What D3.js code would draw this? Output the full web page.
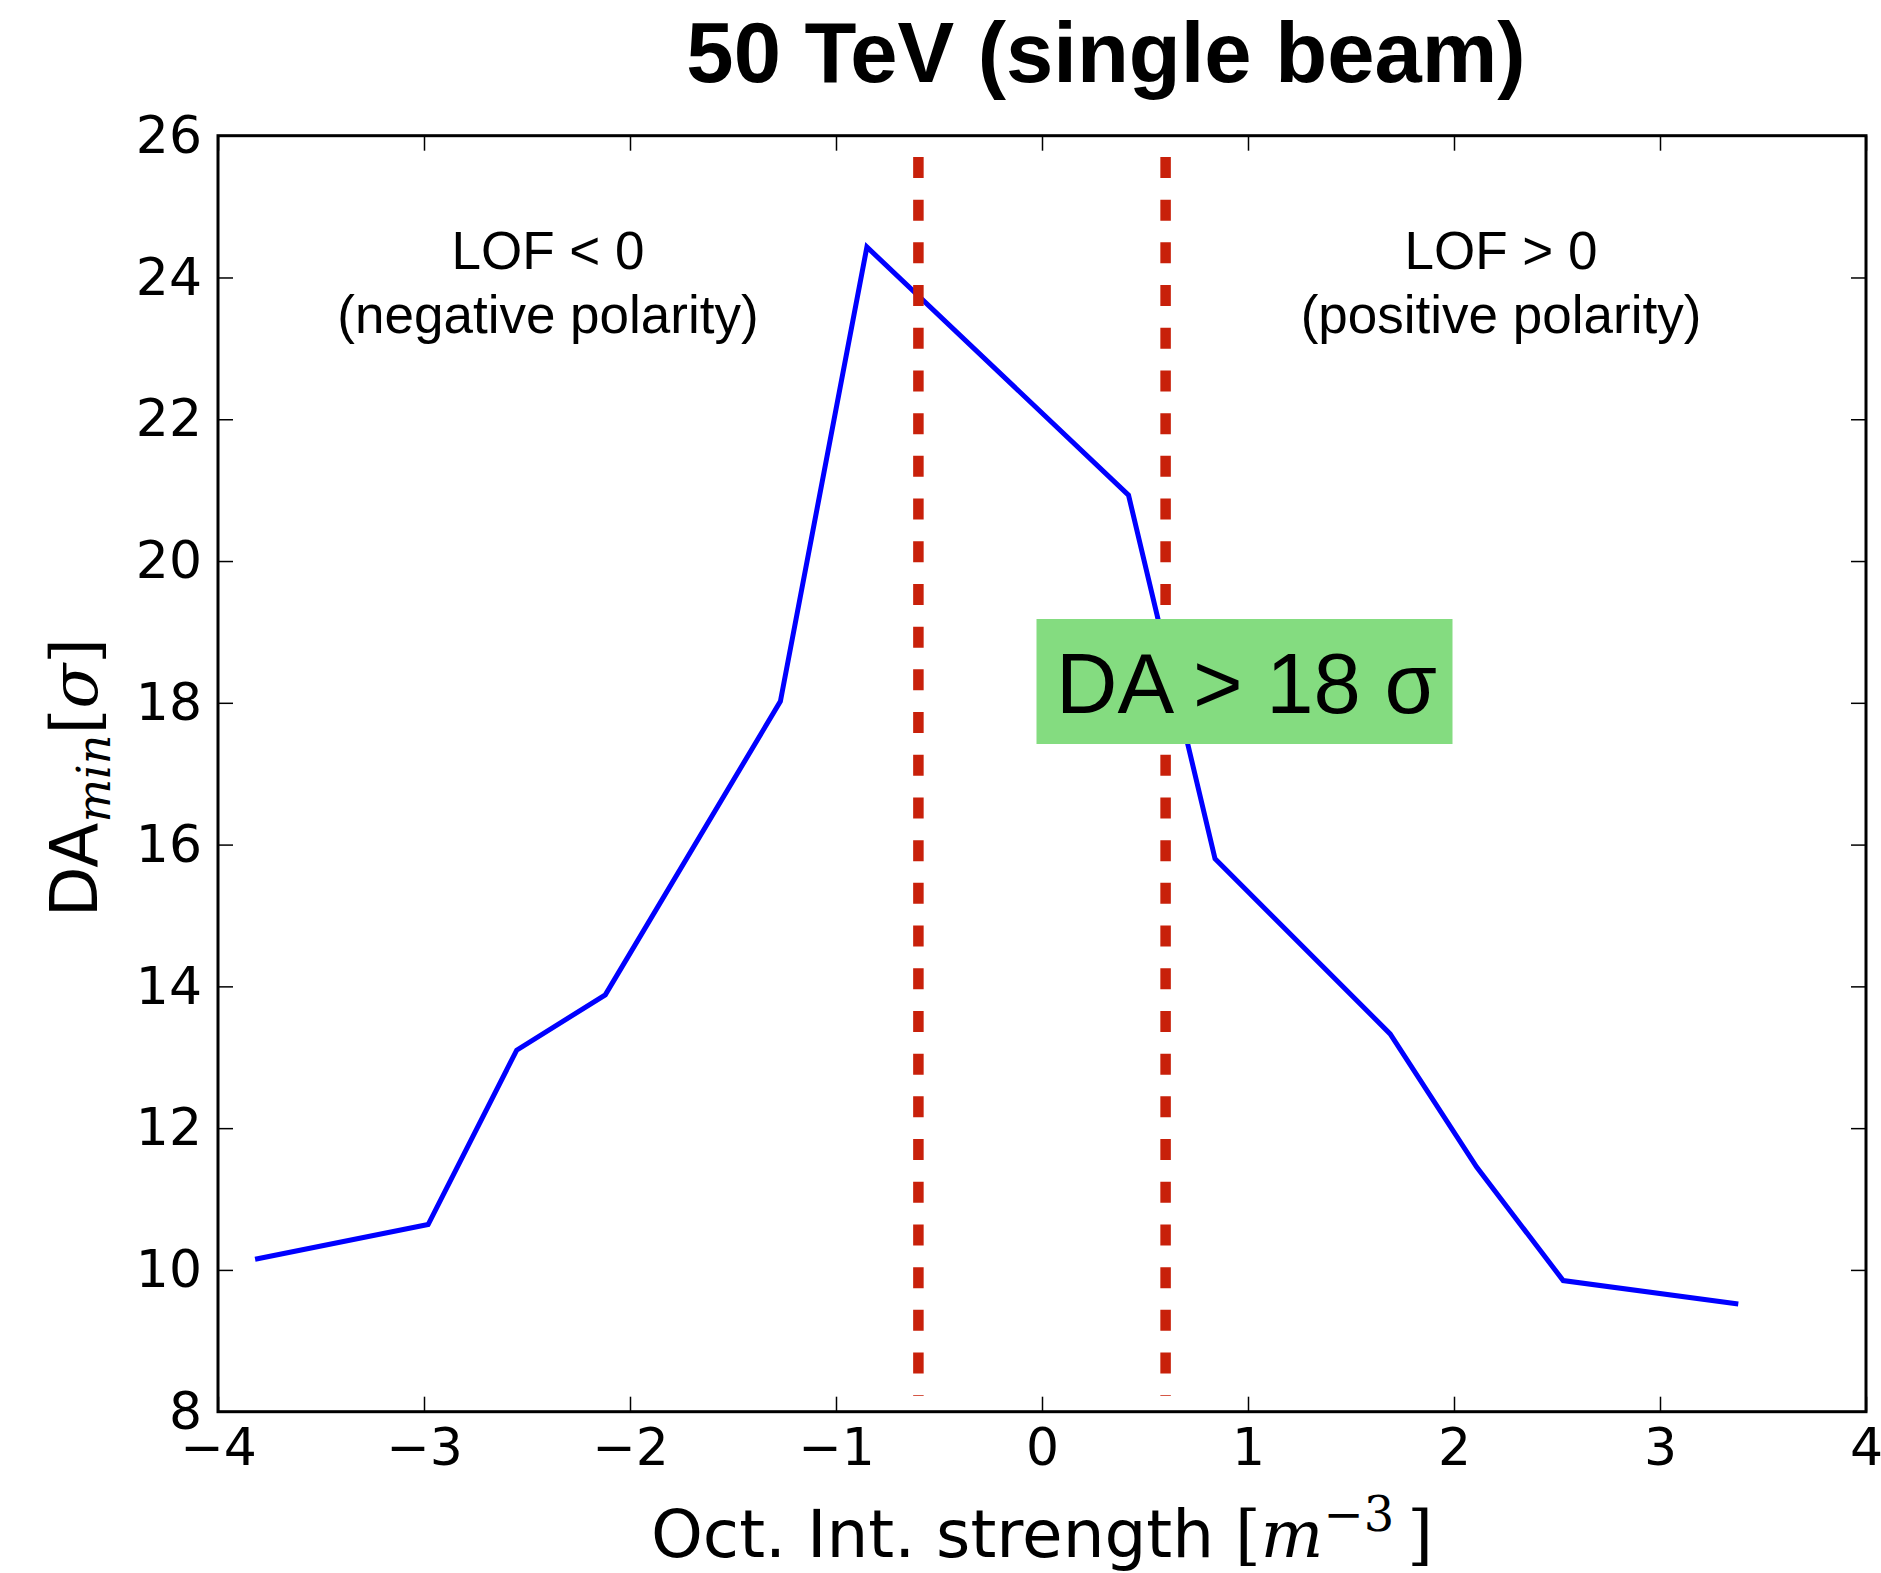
<!DOCTYPE html>
<html>
<head>
<meta charset="utf-8">
<script src="https://cdn.jsdelivr.net/npm/d3@7/dist/d3.min.js"></script>
<style>
  html, body { margin: 0; padding: 0; background: #fff; }
  svg { display: block; }
</style>
</head>
<body>
<svg id="chart" width="1881" height="1573"></svg>
<script>
// ---- data ----
const octStrength = [-3.82, -2.98, -2.55, -2.12, -1.27, -0.85, 0.42, 0.84, 1.69, 2.11, 2.53, 3.38];
const daMin       = [10.15, 10.64, 13.10, 13.88, 18.02, 24.43, 20.93, 15.80, 13.33, 11.45, 9.85, 9.52];
const xTicks = [-4, -3, -2, -1, 0, 1, 2, 3, 4];
const yTicks = [8, 10, 12, 14, 16, 18, 20, 22, 24, 26];
const xDomain = [-4, 4];
const yDomain = [8, 26];
const limitLinesX = [-0.6, 0.6];
const limitLinesY = [8.22, 25.7];
const titleText = "50 TeV (single beam)";
const leftNote  = ["LOF < 0", "(negative polarity)"];
const rightNote = ["LOF > 0", "(positive polarity)"];
const boxText = "DA > 18 σ";

// ---- layout ----
const L = 218, R = 1866, T = 135.7, B = 1411.7;
const svg = d3.select("#chart");
const x = d3.scaleLinear().domain(xDomain).range([L, R]);
const y = d3.scaleLinear().domain(yDomain).range([B, T]);
const tickFont = "'DejaVu Sans', sans-serif";

function styleAxis(g, showLabels) {
  g.select(".domain").remove();
  g.selectAll(".tick line").attr("stroke", "#000").attr("stroke-width", 1.5);
  g.selectAll(".tick text")
    .attr("fill", "#000")
    .style("font-family", tickFont)
    .style("font-size", "52px")
    .style("display", showLabels ? null : "none");
}

svg.append("g").attr("transform", `translate(0,${B})`)
  .call(d3.axisBottom(x).tickValues(xTicks).tickSizeInner(-15).tickSizeOuter(0).tickPadding(16).tickFormat(d3.format("d")))
  .call(g => styleAxis(g, true));
svg.append("g").attr("transform", `translate(0,${T})`)
  .call(d3.axisTop(x).tickValues(xTicks).tickSizeInner(-15).tickSizeOuter(0))
  .call(g => styleAxis(g, false));
svg.append("g").attr("transform", `translate(${L},0)`)
  .call(d3.axisLeft(y).tickValues(yTicks).tickSizeInner(-15).tickSizeOuter(0).tickPadding(16).tickFormat(d3.format("d")))
  .call(g => styleAxis(g, true));
svg.append("g").attr("transform", `translate(${R},0)`)
  .call(d3.axisRight(y).tickValues(yTicks).tickSizeInner(-15).tickSizeOuter(0))
  .call(g => styleAxis(g, false));

// frame
svg.append("rect")
  .attr("x", L).attr("y", T).attr("width", R - L).attr("height", B - T)
  .attr("fill", "none").attr("stroke", "#000").attr("stroke-width", 3);

// data line
const pts = octStrength.map((v, i) => [v, daMin[i]]);
svg.append("path")
  .datum(pts)
  .attr("fill", "none")
  .attr("stroke", "#0000ff")
  .attr("stroke-width", 5)
  .attr("stroke-linejoin", "miter")
  .attr("d", d3.line().x(d => x(d[0])).y(d => y(d[1])));

// red dashed limit lines
svg.selectAll(".limit").data(limitLinesX).enter().append("line")
  .attr("x1", d => x(d)).attr("x2", d => x(d))
  .attr("y1", y(limitLinesY[1])).attr("y2", y(limitLinesY[0]))
  .attr("stroke", "#c8200a").attr("stroke-width", 10.5)
  .attr("stroke-dasharray", "21,21.7");

// title
svg.append("text")
  .attr("x", 1106).attr("y", 82)
  .attr("text-anchor", "middle")
  .style("font-family", "'Liberation Sans', Arial, sans-serif")
  .style("font-weight", "bold")
  .style("font-size", "85px")
  .text(titleText);

// polarity notes
function note(lines, cx) {
  const t = svg.append("text")
    .attr("text-anchor", "middle")
    .style("font-family", "'Liberation Sans', Arial, sans-serif")
    .style("font-size", "53px");
  lines.forEach((s, i) => t.append("tspan").attr("x", cx).attr("y", 269 + i * 64).text(s));
}
note(leftNote, 548);
note(rightNote, 1501);

// green box
svg.append("rect")
  .attr("x", 1036.5).attr("y", 619).attr("width", 416).attr("height", 125)
  .attr("fill", "#84dc80");
svg.append("text")
  .attr("x", 1056).attr("y", 713)
  .style("font-family", "'Liberation Sans', Arial, sans-serif")
  .style("font-size", "85px")
  .text(boxText);

// axis labels
const mathFont = "'DejaVu Serif', 'Liberation Serif', serif";
const xl = svg.append("text")
  .attr("x", (L + R) / 2).attr("y", 1557)
  .attr("text-anchor", "middle")
  .style("font-family", tickFont)
  .style("font-size", "66px");
xl.append("tspan").text("Oct. Int. strength ");
xl.append("tspan").style("font-family", mathFont).style("font-weight", "300").text("[");
xl.append("tspan").style("font-family", mathFont).style("font-style", "italic").text("m");
xl.append("tspan").style("font-family", mathFont).style("font-size", "48px").attr("dy", -26).text("−3");
xl.append("tspan").style("font-family", mathFont).attr("dy", 26).text("\u2009]");

const yl = svg.append("text")
  .attr("transform", `translate(97,${(T + B) / 2 + 4}) rotate(-90)`)
  .attr("text-anchor", "middle")
  .style("font-family", tickFont)
  .style("font-size", "66px");
yl.append("tspan").text("DA");
yl.append("tspan").style("font-family", mathFont).style("font-style", "italic").style("font-size", "46px").attr("dy", 13).text("min");
yl.append("tspan").style("font-family", mathFont).attr("dy", -13).text("[");
yl.append("tspan").style("font-family", mathFont).style("font-style", "italic").text("σ");
yl.append("tspan").style("font-family", mathFont).text("]");
</script>
</body>
</html>
